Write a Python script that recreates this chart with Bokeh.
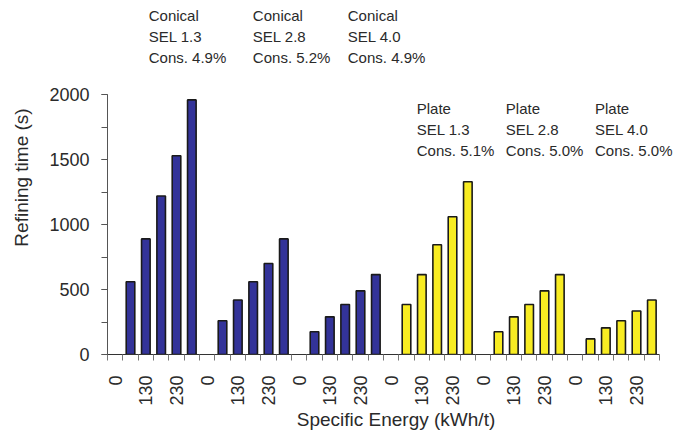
import math
from bokeh.plotting import figure
from bokeh.models import ColumnDataSource, FixedTicker, SingleIntervalTicker, Range1d
from bokeh.core.properties import value
from bokeh.embed import file_html
from bokeh.resources import INLINE

# ---- data -------------------------------------------------------------
energies = [0, 80, 130, 180, 230, 280]          # kWh/t per group slot
shown_labels = ["0", "", "130", "", "230", ""]  # only every other label is printed

conical_13 = [0, 560, 890, 1220, 1530, 1960]
conical_28 = [0, 260, 420, 560, 700, 890]
conical_40 = [0, 175, 290, 385, 490, 615]
plate_13 = [0, 385, 615, 845, 1060, 1330]
plate_28 = [0, 175, 290, 385, 490, 615]
plate_40 = [0, 120, 205, 260, 335, 420]

series = [conical_13, conical_28, conical_40, plate_13, plate_28, plate_40]
refiner = ["Conical", "Conical", "Conical", "Plate", "Plate", "Plate"]
sel = ["SEL 1.3", "SEL 2.8", "SEL 4.0", "SEL 1.3", "SEL 2.8", "SEL 4.0"]
cons = ["Cons. 4.9%", "Cons. 5.2%", "Cons. 4.9%", "Cons. 5.1%", "Cons. 5.0%", "Cons. 5.0%"]

BLUE = "#333399"
YELLOW = "#F8EC22"
colors = [BLUE, BLUE, BLUE, YELLOW, YELLOW, YELLOW]

# ---- build sources ----------------------------------------------------
n = len(energies)
ncat = n * len(series)
xs, tops, fills = [], [], []
for g, vals in enumerate(series):
    for i, v in enumerate(vals):
        if v > 0:
            xs.append(g * n + i + 0.5)
            tops.append(v)
            fills.append(colors[g])
src = ColumnDataSource(dict(x=xs, top=tops, fill=fills))

FONT = "Liberation Sans"
TXT = "#2a2a2a"

p = figure(width=684, height=434, output_backend="svg", toolbar_location=None,
           x_range=Range1d(0, 37.63), y_range=Range1d(0, 2725),
           min_border_left=107, min_border_right=0, min_border_top=0,
           min_border_bottom=80)
p.outline_line_color = None
p.grid.visible = False
p.background_fill_color = "white"

p.vbar(x="x", top="top", bottom=0, width=0.56, source=src,
       fill_color="fill", line_color="#1a1a1a", line_width=1.6)

# ---- axes -------------------------------------------------------------
yax = p.yaxis[0]
yax.ticker = SingleIntervalTicker(interval=500, num_minor_ticks=2)
yax.bounds = (0, 2000)
yax.axis_label = "Refining time (s)"
yax.axis_label_text_font = FONT
yax.axis_label_text_font_style = "normal"
yax.axis_label_text_font_size = "19px"
yax.axis_label_text_color = TXT
yax.axis_label_standoff = 14
yax.major_label_text_font = FONT
yax.major_label_text_font_size = "18px"
yax.major_label_text_color = TXT
yax.major_label_standoff = 12
yax.major_tick_in = 0
yax.major_tick_out = 6
yax.minor_tick_in = 0
yax.minor_tick_out = 6
yax.axis_line_color = "#555555"
yax.major_tick_line_color = "#555555"
yax.minor_tick_line_color = "#555555"

xax = p.xaxis[0]
label_pos = []
overrides = {}
for g in range(len(series)):
    for i, lab in enumerate(shown_labels):
        if lab:
            pos = g * n + i + 0.5
            label_pos.append(pos)
            overrides[pos] = lab
xax.ticker = FixedTicker(ticks=label_pos, minor_ticks=list(range(ncat + 1)))
xax.bounds = (0, ncat)
xax.major_label_overrides = overrides
xax.major_label_orientation = math.pi / 2
xax.major_label_text_font = FONT
xax.major_label_text_font_size = "18px"
xax.major_label_text_color = TXT
xax.major_label_standoff = 15
xax.major_tick_in = 0
xax.major_tick_out = 0
xax.minor_tick_in = 0
xax.minor_tick_out = 6
xax.axis_line_color = "#333333"
xax.minor_tick_line_color = "#777777"
xax.axis_label = "Specific Energy (kWh/t)"
xax.axis_label_text_font = FONT
xax.axis_label_text_font_style = "normal"
xax.axis_label_text_font_size = "19px"
xax.axis_label_text_color = TXT
xax.axis_label_standoff = 0

# ---- group annotations -----------------------------------------------
ann_x = [2.69, 9.48, 15.67, 20.17, 25.98, 31.79]
ann_y = [2610, 2610, 2610, 1892, 1892, 1892]
step = 160
tx, ty, tt = [], [], []
for g in range(len(series)):
    for k, line in enumerate([refiner[g], sel[g], cons[g]]):
        tx.append(ann_x[g])
        ty.append(ann_y[g] - k * step)
        tt.append(line)
p.text(x=tx, y=ty, text=tt, text_font=value(FONT), text_font_size="15px",
       text_color=TXT, text_baseline="middle", text_align="left")

open("out.html", "w").write(file_html(p, INLINE))
